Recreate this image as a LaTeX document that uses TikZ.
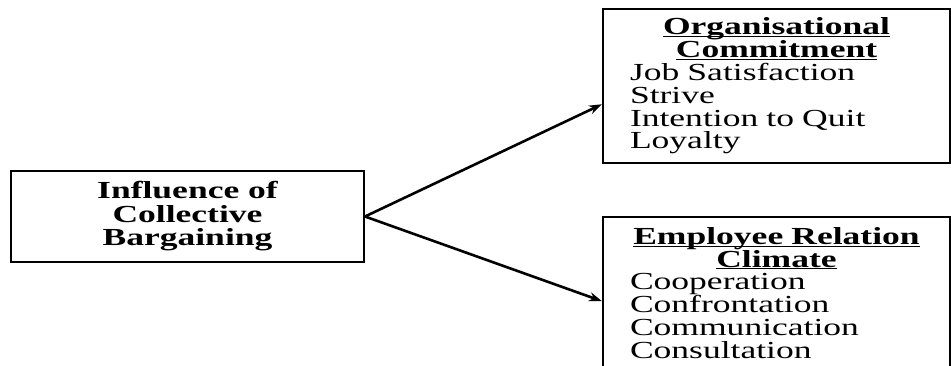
\documentclass[tikz,border=0pt]{standalone}
\usepackage{fontspec}
\setmainfont{Liberation Serif}[FakeStretch=1.45]
\usetikzlibrary{positioning, calc, arrows.meta}

\newcommand\headul[1]{\underline{\raisebox{0pt}[\height][0pt]{#1}}}

\tikzset{
  framebox/.style={draw, line width=2pt, inner sep=0pt,
    font=\fontsize{24.5}{22.8}\selectfont},
  listbox/.style={framebox, anchor=north west, minimum width=347pt,
    text width=293pt, align=left},
  link/.style={-{Stealth[length=13pt,width=9pt]}, line width=2.6pt}
}

\begin{document}
\begin{tikzpicture}[x=1pt, y=-1pt]
  \useasboundingbox (0,0) rectangle (951,365);
  \clip (0,0) rectangle (951,365);
  \node[framebox, minimum width=353pt, minimum height=91pt, align=center,
        font=\bfseries\fontsize{24.5}{23.5}\selectfont] (bargain) at (187.5,216.5)
        {Influence of\\Collective\\Bargaining};
  \node[listbox, minimum height=154pt] (commit) at (602,8)
        {{\centering\bfseries\headul{Organisational}\\\headul{Commitment}\par}
         Job Satisfaction\\Strive\\Intention to Quit\\Loyalty};
  \node[listbox, minimum height=152pt] (climate) at (602,216)
        {{\centering\bfseries\headul{Employee Relation}\\\headul{Climate}\par}
         Cooperation\\Confrontation\\Communication\\Consultation};
  \draw[link] (bargain.east) -- ($(commit.north west)!0.617!(commit.south west)$);
  \draw[link] (bargain.east) -- ($(climate.north west)!0.553!(climate.south west)$);
\end{tikzpicture}
\end{document}
